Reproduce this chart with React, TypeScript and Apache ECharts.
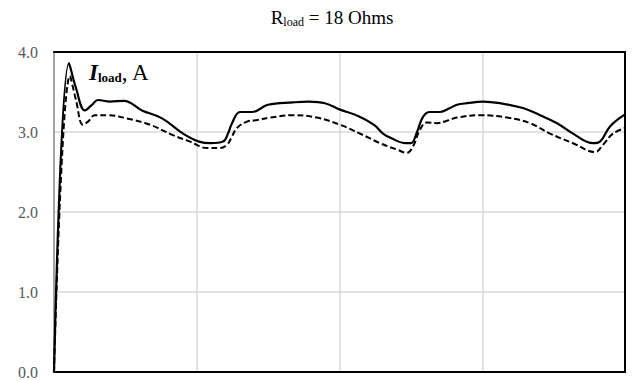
import React, { useEffect, useRef } from "react";
import * as echarts from "echarts";

// x positions in grid-cell units (0..4), y values in A
const solidX = [0, 0.105, 0.154, 0.217, 0.266, 0.308, 0.392, 0.49, 0.616, 0.757, 0.904, 1.016, 1.1, 1.184, 1.219, 1.247, 1.303, 1.387, 1.499, 1.674, 1.786, 1.898, 2.004, 2.13, 2.242, 2.305, 2.354, 2.466, 2.501, 2.543, 2.585, 2.634, 2.704, 2.774, 2.823, 2.893, 3.005, 3.124, 3.285, 3.405, 3.524, 3.636, 3.776, 3.825, 3.895, 4.0];
const solidY = [0, 3.86, 3.55, 3.27, 3.34, 3.4, 3.38, 3.39, 3.27, 3.17, 2.98, 2.88, 2.86, 2.88, 2.98, 3.11, 3.25, 3.25, 3.34, 3.37, 3.38, 3.36, 3.28, 3.2, 3.09, 2.98, 2.93, 2.86, 2.86, 3.0, 3.19, 3.25, 3.25, 3.3, 3.34, 3.36, 3.38, 3.36, 3.3, 3.21, 3.11, 2.98, 2.86, 2.88, 3.07, 3.22];

const dashedX = [0, 0.112, 0.154, 0.203, 0.238, 0.287, 0.371, 0.511, 0.673, 0.834, 0.953, 1.072, 1.163, 1.212, 1.24, 1.282, 1.352, 1.422, 1.513, 1.674, 1.842, 2.004, 2.144, 2.284, 2.403, 2.473, 2.515, 2.564, 2.613, 2.683, 2.753, 2.823, 2.984, 3.174, 3.335, 3.475, 3.636, 3.79, 3.846, 3.916, 4.0];
const dashedY = [0, 3.7, 3.4, 3.09, 3.13, 3.21, 3.21, 3.17, 3.09, 2.96, 2.88, 2.8, 2.8, 2.84, 2.92, 3.05, 3.13, 3.15, 3.18, 3.21, 3.18, 3.09, 2.98, 2.86, 2.78, 2.74, 2.82, 3.03, 3.12, 3.11, 3.14, 3.18, 3.21, 3.18, 3.11, 2.98, 2.86, 2.75, 2.84, 2.98, 3.05];

const yTicks = ["0.0", "1.0", "2.0", "3.0", "4.0"];

const SERIF = "Liberation Serif";

export default function App() {
  const ref = useRef<HTMLDivElement>(null);
  useEffect(() => {
    if (!ref.current) return;
    const chart = echarts.init(ref.current, null, { renderer: "svg" });
    const solid = solidX.map((x, i) => [x, solidY[i]]);
    const dashed = dashedX.map((x, i) => [x, dashedY[i]]);
    const hiddenAxis = {
      axisLabel: { show: false },
      axisTick: { show: false },
      splitLine: { show: false },
    };
    chart.setOption({
      animation: false,
      backgroundColor: "#ffffff",
      grid: { left: 54, right: 12, top: 52, bottom: 9, containLabel: false },
      xAxis: [
        {
          type: "value",
          min: 0,
          max: 4,
          interval: 1,
          axisLabel: { show: false },
          axisTick: { show: false },
          axisLine: { show: true, lineStyle: { color: "#000", width: 2 } },
          splitLine: { show: true, lineStyle: { color: "#d9d9d9", width: 1.5 } },
        },
        {
          type: "value",
          position: "top",
          min: 0,
          max: 4,
          ...hiddenAxis,
          axisLine: { show: true, onZero: false, lineStyle: { color: "#000", width: 2 } },
        },
      ],
      yAxis: [
        {
          type: "value",
          min: 0,
          max: 4,
          interval: 1,
          axisTick: { show: false },
          axisLine: { show: true, onZero: false, lineStyle: { color: "#8c8c8c", width: 1.5 } },
          axisLabel: {
            margin: 16,
            color: "#595959",
            fontFamily: SERIF,
            fontSize: 16,
            formatter: (v: number) => yTicks[Math.round(v)] ?? "",
          },
          splitLine: { show: true, lineStyle: { color: "#d9d9d9", width: 1.5 } },
        },
        {
          type: "value",
          position: "right",
          min: 0,
          max: 4,
          ...hiddenAxis,
          axisLine: { show: true, onZero: false, lineStyle: { color: "#000", width: 2 } },
        },
      ],
      series: [
        {
          type: "line",
          data: dashed,
          symbol: "none",
          smooth: 0.4,
          lineStyle: { color: "#000", width: 2, type: [6, 3] },
          z: 3,
        },
        {
          type: "line",
          data: solid,
          symbol: "none",
          smooth: 0.4,
          lineStyle: { color: "#000", width: 2.2 },
          z: 4,
        },
      ],
      graphic: [
        {
          type: "text",
          x: 332,
          y: 6,
          style: {
            text: "{r|R}{s|load}{r| = 18 Ohms}",
            textAlign: "center",
            rich: {
              r: { fontFamily: SERIF, fontSize: 19, color: "#595959", lineHeight: 22, verticalAlign: "middle" },
              s: { fontFamily: SERIF, fontSize: 12, color: "#595959", lineHeight: 12, verticalAlign: "bottom" },
            },
          },
        },
        {
          type: "text",
          x: 89,
          y: 60,
          style: {
            text: "{i|I}{s|load}{r|, A}",
            rich: {
              i: { fontFamily: SERIF, fontSize: 23, fontStyle: "italic", fontWeight: "bold", color: "#666666", lineHeight: 24, verticalAlign: "middle" },
              s: { fontFamily: SERIF, fontSize: 13, fontWeight: "bold", color: "#666666", lineHeight: 13, verticalAlign: "bottom" },
              r: { fontFamily: SERIF, fontSize: 23, color: "#666666", lineHeight: 24, verticalAlign: "middle" },
            },
          },
          z: 10,
        },
      ],
    });
    return () => chart.dispose();
  }, []);
  return (
    <div
      ref={ref}
      style={{ position: "fixed", left: 0, top: 0, width: 637, height: 381 }}
    />
  );
}
